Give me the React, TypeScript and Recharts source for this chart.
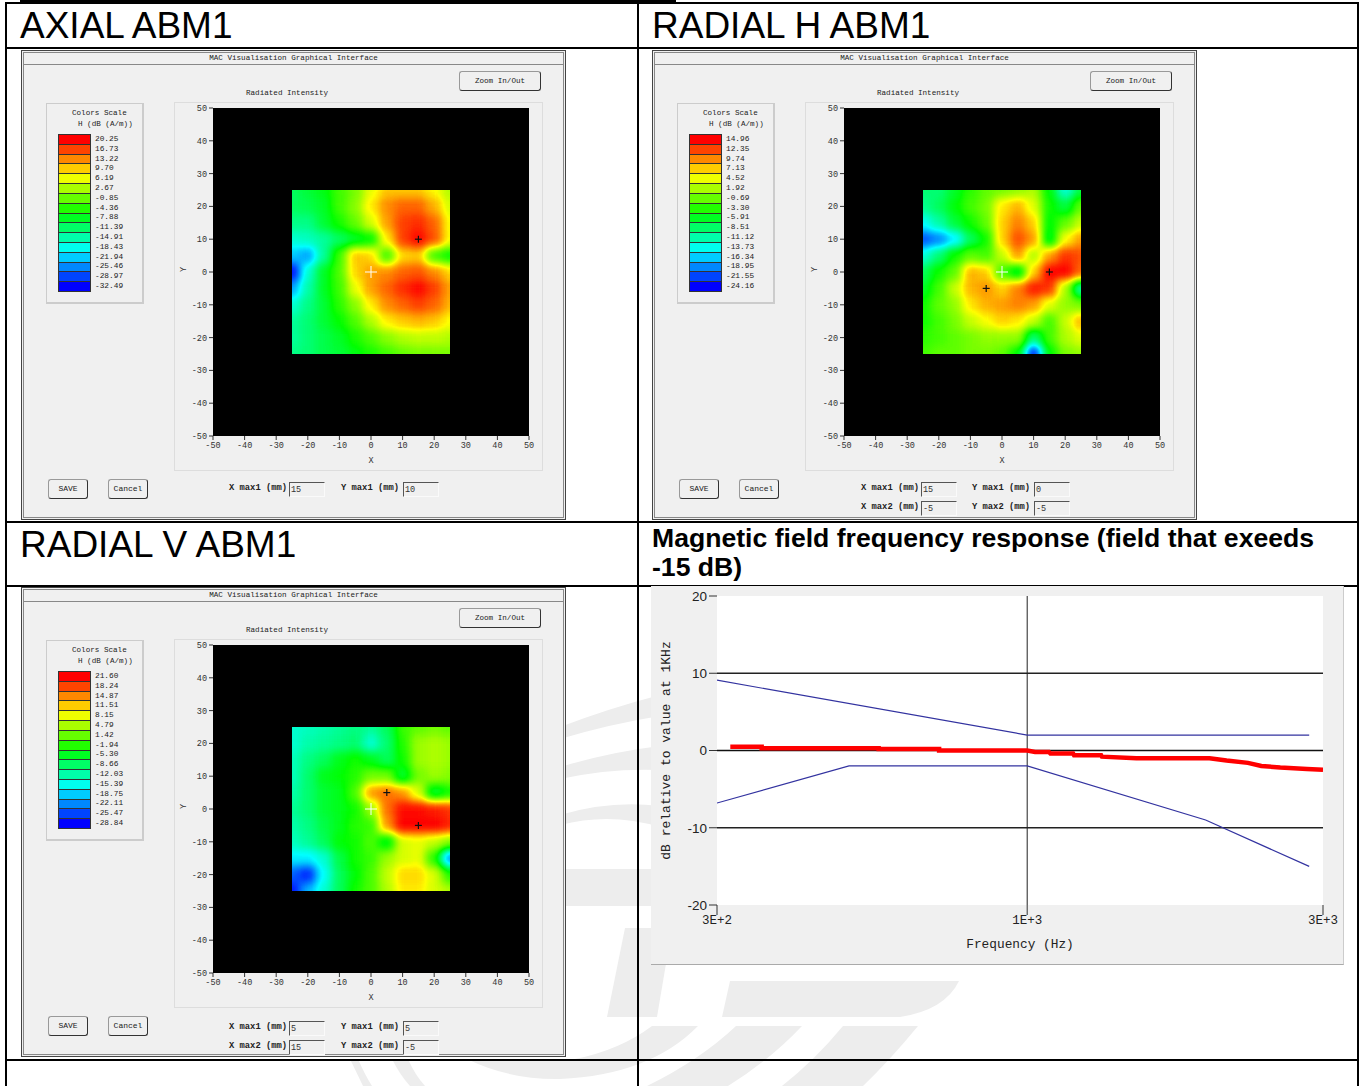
import React from "react";
import {
  ScatterChart,
  Scatter,
  LineChart,
  Line,
  XAxis,
  YAxis,
  CartesianGrid,
  ReferenceArea,
  ReferenceLine,
} from "recharts";

// grid of the scan, mm
const scanX = [-25, -20, -15, -10, -5, 0, 5, 10, 15, 20, 25];
const scanY = [25, 20, 15, 10, 5, 0, -5, -10, -15, -20, -25];
const axisTicks = [-50, -40, -30, -20, -10, 0, 10, 20, 30, 40, 50];

// H field in dB (A/m), rows from y=25 down to y=-25
const axialField = [
  [-11, -9, -7, -3, 0, 6, 10, 10, 10, 7, 3],
  [-11, -10, -8, -3, 1, 8, 13, 15, 15, 11, 5],
  [-13, -13, -9, -5, -1, 5, 12, 17, 18, 15, 7],
  [-17, -16, -14, -11, -8, -6, 8, 17, 20, 16, 7],
  [-22, -24, -14, -3, 10, 9, -3, 9, 10, -3, -6],
  [-32, -17, -8, -2, 9, 12, 13, 15, 16, 13, 9],
  [-24, -15, -8, -3, 6, 12, 15, 18, 20, 17, 12],
  [-17, -13, -9, -4, 1, 8, 13, 15, 17, 15, 11],
  [-14, -12, -9, -6, -2, 3, 8, 10, 11, 10, 7],
  [-14, -12, -10, -8, -5, -2, 1, 3, 4, 4, 3],
  [-13, -12, -10, -9, -7, -5, -3, -1, 0, 0, 0],
];
const radialHField = [
  [-9, -9, -6, -3, -1, 0, 1, 2, -5, -13, -7],
  [-10, -8, -5, -2, 0, 6, 8, 4, -4, -7, -1],
  [-14, -11, -7, -4, -1, 7, 10, 7, -5, -1, 3],
  [-21, -19, -15, -8, -4, 7, 12, 9, -6, 5, 9],
  [-13, -9, -4, -1, -2, 3, 9, 2, 9, 13, 12],
  [-8, -4, -1, 8, 7, -2, -6, 7, 15, 15, 11],
  [-6, -2, 3, 8, 9, 7, 10, 14, 13, 2, -11],
  [-4, -1, 1, 6, 8, 9, 10, 9, 4, 1, 0],
  [-4, -2, 0, 3, 5, 7, 6, 3, -2, 3, 8],
  [-3, -2, -1, 0, 1, 1, 1, -9, -2, 2, 4],
  [-2, -1, -1, 0, 0, -1, -5, -23, -5, 0, 1],
];
const radialVField = [
  [-14, -13, -12, -11, -10, -11, -8, -1, 1, 2, 1],
  [-14, -12, -11, -10, -9, -14, -9, -2, 4, 5, 4],
  [-13, -10, -8, -5, -3, -5, -8, -3, 4, 5, 4],
  [-13, -9, -5, -4, -2, 2, 2, -6, 2, 4, 3],
  [-12, -9, -6, -5, 0, 14, 16, 14, 7, -6, -3],
  [-11, -9, -6, -5, -3, 4, 16, 21, 21, 20, 19],
  [-12, -10, -7, -5, -2, -1, 14, 21.6, 21.6, 21.6, 20],
  [-13, -11, -8, -4, -3, 0, -5, 7, 8, 6, 3],
  [-17, -17, -14, -7, -3, -1, 4, 7, 8, -2, -22],
  [-24, -27, -16, -8, -4, 0, 6, 11, 11, 7, -2],
  [-28, -20, -14, -8, -3, 0, 5, 10, 10, 7, 5],
];

const axialLegend = ["20.25", "16.73", "13.22", "9.70", "6.19", "2.67", "-0.85", "-4.36", "-7.88", "-11.39", "-14.91", "-18.43", "-21.94", "-25.46", "-28.97", "-32.49"];
const radialHLegend = ["14.96", "12.35", "9.74", "7.13", "4.52", "1.92", "-0.69", "-3.30", "-5.91", "-8.51", "-11.12", "-13.73", "-16.34", "-18.95", "-21.55", "-24.16"];
const radialVLegend = ["21.60", "18.24", "14.87", "11.51", "8.15", "4.79", "1.42", "-1.94", "-5.30", "-8.66", "-12.03", "-15.39", "-18.75", "-22.11", "-25.47", "-28.84"];

const axialPeaks = [{ x: 15, y: 10 }];
const radialHPeaks = [{ x: 15, y: 0 }, { x: -5, y: -5 }];
const radialVPeaks = [{ x: 5, y: 5 }, { x: 15, y: -5 }];
const origin = [{ x: 0, y: 0 }];

// frequency response
const upperLimitF = [316, 1000, 2850];
const upperLimitDb = [9.1, 2, 2];
const lowerLimitF = [316, 516, 1000, 1940, 2850];
const lowerLimitDb = [-6.8, -2, -2, -9, -15];
const responseF = [332, 373, 373, 576, 576, 721, 721, 1000, 1030, 1084, 1090, 1186, 1190, 1316, 1320, 1500, 1968, 2097, 2270, 2386, 2560, 2827, 3000];
const responseDb = [0.5, 0.5, 0.3, 0.3, 0.2, 0.2, 0, 0, -0.2, -0.2, -0.4, -0.4, -0.6, -0.6, -0.8, -1, -1, -1.3, -1.6, -2, -2.2, -2.4, -2.5];
const dbTicks = [-20, -10, 0, 10, 20];
const freqTicks = [316, 1000, 3000];
const freqLabels = ["3E+2", "1E+3", "3E+3"];

const pairs = (xs: number[], ys: number[]) => xs.map((f, i) => ({ f, db: ys[i] }));
const MONO = "'Liberation Mono', monospace";
const PANEL_BG = "#f0f0f0";
const CELL_W = 15.8;
const CELL_H = 16.4;

function Rule({ x, y, w, h }: { x: number; y: number; w: number; h: number }) {
  return <div style={{ position: "absolute", left: x, top: y, width: w, height: h, background: "#000" }} />;
}

function Heading({ x, y, children }: { x: number; y: number; children: React.ReactNode }) {
  return (
    <div style={{ position: "absolute", left: x, top: y, fontFamily: "'Liberation Sans', sans-serif", fontSize: 37, lineHeight: "40px", whiteSpace: "nowrap", color: "#000" }}>
      {children}
    </div>
  );
}

function Small({ x, y, w, align, bold, size, children }: { x: number; y: number; w?: number; align?: "left" | "center"; bold?: boolean; size?: number; children: React.ReactNode }) {
  return (
    <div style={{ position: "absolute", left: x, top: y, width: w, textAlign: align || "left", fontFamily: MONO, fontSize: size || 7.6, lineHeight: "10px", fontWeight: bold ? 700 : 400, whiteSpace: "pre", color: "#222" }}>
      {children}
    </div>
  );
}

function Button({ x, y, label }: { x: number; y: number; label: string }) {
  return (
    <div style={{ position: "absolute", left: x, top: y, width: 38, height: 18, borderRight: "1.5px solid #333", borderBottom: "1.5px solid #333", borderLeft: "1px solid #999", borderTop: "1px solid #999", borderRadius: 3, textAlign: "center", fontFamily: MONO, fontSize: 8, lineHeight: "18px", color: "#222" }}>
      {label}
    </div>
  );
}

function Field({ x, y, inputX, label, value }: { x: number; y: number; inputX: number; label: string; value: string }) {
  return (
    <>
      <Small x={x} y={y} bold size={8.8}>{label}</Small>
      <div style={{ position: "absolute", left: inputX, top: y - 1, width: 33, height: 13, borderTop: "1px solid #555", borderLeft: "1px solid #555", borderRight: "1px solid #fafafa", borderBottom: "1px solid #fafafa", fontFamily: MONO, fontSize: 8.5, lineHeight: "14px", paddingLeft: 1, color: "#333", boxSizing: "content-box" }}>
        {value}
      </div>
    </>
  );
}

const crossShape = (arm: number, color: string, width: number) => (p: any) => (
  <g stroke={color} strokeWidth={width}>
    <line x1={p.cx - arm} x2={p.cx + arm} y1={p.cy} y2={p.cy} />
    <line x1={p.cx} x2={p.cx} y1={p.cy - arm} y2={p.cy + arm} />
  </g>
);

function HeatMap({ id, field, peaks, max, min }: { id: string; field: number[][]; peaks: { x: number; y: number }[]; max: number; min: number }) {
  const cells = field.flatMap((row, j) => row.map((db, i) => ({ x: scanX[i], y: scanY[j], db, i, j })));
  // grey level carries the value, the svg filter turns it into the rainbow after the blur
  const cellShape = (p: any) => {
    const { db, i, j } = p.payload;
    const g = Math.round((255 * (db - min)) / (max - min));
    const pad = 14;
    const left = p.cx - CELL_W / 2 - (i === 0 ? pad : 0);
    const right = p.cx + CELL_W / 2 + (i === 10 ? pad : 0);
    const top = p.cy - CELL_H / 2 - (j === 0 ? pad : 0);
    const bottom = p.cy + CELL_H / 2 + (j === 10 ? pad : 0);
    return <rect x={left} y={top} width={right - left + 0.5} height={bottom - top + 0.5} fill={`rgb(${g},${g},${g})`} />;
  };
  const tickStyle = { fontFamily: MONO, fontSize: 8.5, fill: "#333" };
  return (
    <ScatterChart id={id} width={369} height={369} margin={{ top: 6, right: 14, bottom: 0, left: 0 }}>
      <CartesianGrid horizontal={false} vertical={false} fill="#000" />
      <XAxis type="number" dataKey="x" domain={[-50, 50]} ticks={axisTicks} tick={tickStyle} tickSize={4} axisLine={false} tickLine={{ stroke: "#333" }} height={35} interval={0}
        label={{ value: "X", position: "insideBottom", offset: 8, style: { fontFamily: MONO, fontSize: 8.5, fill: "#333" } }} />
      <YAxis type="number" dataKey="y" domain={[-50, 50]} ticks={axisTicks} tick={tickStyle} tickSize={4} axisLine={false} tickLine={{ stroke: "#333" }} width={39} interval={0}
        label={{ value: "Y", angle: -90, position: "insideLeft", offset: 9, style: { fontFamily: MONO, fontSize: 8.5, fill: "#333" } }} />
      <Scatter className="heat-cells" data={cells} shape={cellShape} isAnimationActive={false} zIndex={600} />
      <ReferenceArea x1={-50} x2={-25} y1={-50} y2={50} fill="#000" fillOpacity={1} stroke="none" zIndex={650} />
      <ReferenceArea x1={25} x2={50} y1={-50} y2={50} fill="#000" fillOpacity={1} stroke="none" zIndex={650} />
      <ReferenceArea x1={-25} x2={25} y1={25} y2={50} fill="#000" fillOpacity={1} stroke="none" zIndex={650} />
      <ReferenceArea x1={-25} x2={25} y1={-50} y2={-25} fill="#000" fillOpacity={1} stroke="none" zIndex={650} />
      <Scatter data={peaks} shape={crossShape(3.5, "#111", 1.2)} isAnimationActive={false} zIndex={700} />
      <Scatter data={origin} shape={crossShape(6, "#fff", 1)} isAnimationActive={false} zIndex={700} />
    </ScatterChart>
  );
}

function MacPanel({ x, y, field, legend, peaks, fields }: {
  x: number; y: number; field: number[][]; legend: string[]; peaks: { x: number; y: number }[];
  fields: { x: number; y: number; inputX: number; label: string; value: string }[];
}) {
  return (
    <div style={{ position: "absolute", left: x, top: y, width: 545, height: 470, background: PANEL_BG, border: "1px solid #444", boxSizing: "border-box" }}>
      <div style={{ position: "absolute", left: 1, top: 1, right: 1, bottom: 1, border: "1px solid #888" }} />
      <div style={{ position: "absolute", left: 2, right: 2, top: 13, height: 1, background: "#888" }} />
      <Small x={0} y={2} w={543} align="center">MAC Visualisation Graphical Interface</Small>
      <Small x={0} y={37} w={530} align="center">Radiated Intensity</Small>
      <div style={{ position: "absolute", left: 437, top: 20, width: 80, height: 18, borderRight: "1.5px solid #333", borderBottom: "1.5px solid #333", borderLeft: "1px solid #999", borderTop: "1px solid #999", borderRadius: 3, textAlign: "center", fontFamily: MONO, fontSize: 7.6, lineHeight: "18px", color: "#222" }}>Zoom In/Out</div>

      <div style={{ position: "absolute", left: 24, top: 52, width: 98, height: 201, border: "1px solid #ccc", borderBottomWidth: 2, borderRightWidth: 2, boxSizing: "border-box" }} />
      <Small x={50} y={57}>Colors Scale</Small>
      <Small x={56} y={68}>H (dB (A/m))</Small>
      <div style={{ position: "absolute", left: 36, top: 83, width: 33, height: 158, border: "1px solid #333", boxSizing: "border-box", display: "flex", flexDirection: "column" }}>
        {legend.map((_, k) => (
          <div key={k} style={{ flex: 1, borderBottom: k < 15 ? "1px solid #333" : "none", background: `hsl(${k * 16} 100% 50%)` }} />
        ))}
      </div>
      {legend.map((t, k) => (
        <Small key={t} x={73} y={83 + k * 9.8} size={7.8}>{t}</Small>
      ))}

      <div style={{ position: "absolute", left: 152, top: 51, width: 369, height: 369, border: "1px solid #ddd", boxSizing: "border-box" }} />
      <div style={{ position: "absolute", left: 152, top: 51 }}>
        <HeatMap id={`m${x}${y}`} field={field} peaks={peaks} max={parseFloat(legend[0])} min={parseFloat(legend[15])} />
      </div>

      <Button x={26} y={428} label="SAVE" />
      <Button x={86} y={428} label="Cancel" />
      {fields.map((f) => (
        <Field key={f.label} {...f} />
      ))}
    </div>
  );
}

function RotatedTitle(props: any) {
  const { viewBox } = props;
  const cy = viewBox.y + viewBox.height / 2;
  return (
    <text x={0} y={0} transform={`translate(19 ${cy}) rotate(-90)`} textAnchor="middle" fontFamily={MONO} fontSize={13} fill="#222">
      dB relative to value at 1KHz
    </text>
  );
}

function ResponseChart() {
  const tick = { fontFamily: MONO, fontSize: 12.5, fill: "#222" };
  return (
    <LineChart width={692} height={378} margin={{ top: 10, right: 20, bottom: 0, left: 0 }}>
      <CartesianGrid horizontal={false} vertical={false} fill="#fff" />
      <XAxis type="number" dataKey="f" scale="log" domain={[316, 3000]} ticks={freqTicks} allowDataOverflow tick={tick} tickSize={10} tickMargin={0} axisLine={false} tickLine={{ stroke: "#333" }} height={59} interval={0}
        tickFormatter={(v: number) => freqLabels[freqTicks.indexOf(v)]}
        label={{ value: "Frequency (Hz)", position: "insideBottom", offset: 16, style: { ...tick, fontSize: 12.8 } }} />
      <YAxis type="number" domain={[-20, 20]} ticks={dbTicks} tick={{ ...tick, fontFamily: "'Liberation Sans', sans-serif", fontSize: 13.5 }} tickSize={8} axisLine={false} tickLine={{ stroke: "#333" }} width={66} interval={0}
        label={<RotatedTitle />} />
      <ReferenceLine y={10} stroke="#222" strokeWidth={1.5} />
      <ReferenceLine y={0} stroke="#111" strokeWidth={1.5} />
      <ReferenceLine y={-10} stroke="#222" strokeWidth={1.5} />
      <ReferenceLine x={1000} stroke="#222" strokeWidth={1} />
      <Line data={pairs(upperLimitF, upperLimitDb)} dataKey="db" type="linear" stroke="#3333a0" strokeWidth={1.2} dot={false} isAnimationActive={false} />
      <Line data={pairs(lowerLimitF, lowerLimitDb)} dataKey="db" type="linear" stroke="#3333a0" strokeWidth={1.2} dot={false} isAnimationActive={false} />
      <Line data={pairs(responseF, responseDb)} dataKey="db" type="linear" stroke="#ff0000" strokeWidth={4.5} dot={false} isAnimationActive={false} />
    </LineChart>
  );
}

// the pale logo printed behind the page
function Watermark() {
  return (
    <svg width={1360} height={1086} style={{ position: "absolute", left: 0, top: 0 }}>
      <g fill="#ededed">
        <path d="M560 727 Q610 708 660 695 L660 716 Q610 724 560 739 Z" />
        <path d="M560 767 Q610 752 660 746 L660 770 Q610 768 560 779 Z" />
        <path d="M560 815 Q610 800 660 806 L660 827 Q610 812 560 825 Z" />
        <rect x={560} y={869} width={100} height={37} />
        <path d="M625 928 L672 928 L657 1017 L607 1017 Z" />
        <path d="M730 981 L959 981 Q945 1010 900 1017 L722 1017 Z" />
        <path d="M652 1026 L698 1026 Q650 1075 560 1079 Q510 1080 467 1059 L575 1059 Q620 1050 652 1026 Z" />
        <path d="M736 1026 L802 1026 Q770 1060 728 1086 L647 1086 Q700 1060 736 1026 Z" />
        <path d="M843 1026 L918 1026 Q890 1060 863 1086 L782 1086 Q815 1060 843 1026 Z" />
        <path d="M350 1059 L358 1059 Q365 1075 372 1086 L363 1086 Z" />
        <path d="M392 1059 L408 1059 Q415 1075 425 1086 L410 1086 Q400 1075 392 1059 Z" />
      </g>
    </svg>
  );
}

export default function App() {
  return (
    <div style={{ position: "absolute", left: 0, top: 0, width: 1360, height: 1086, background: "#fff", overflow: "hidden" }}>
      <svg width={0} height={0} style={{ position: "absolute" }}>
        <defs>
          <filter id="heat" x="-20%" y="-20%" width="140%" height="140%" colorInterpolationFilters="sRGB">
            <feGaussianBlur stdDeviation={4.8} />
            <feComponentTransfer>
              <feFuncR type="table" tableValues="0 0 0 1 1" />
              <feFuncG type="table" tableValues="0 1 1 1 0" />
              <feFuncB type="table" tableValues="1 1 0 0 0" />
            </feComponentTransfer>
          </filter>
        </defs>
      </svg>
      <style>{`.heat-cells { filter: url(#heat); }`}</style>
      <Watermark />

      {/* table rules */}
      <Rule x={20} y={0} w={656} h={3} />
      <Rule x={5} y={2} w={1354} h={1.5} />
      <Rule x={5} y={2} w={2} h={1084} />
      <Rule x={636.5} y={2} w={2} h={1084} />
      <Rule x={1357} y={2} w={2} h={1084} />
      <Rule x={5} y={47} w={1354} h={2} />
      <Rule x={5} y={521} w={1354} h={2} />
      <Rule x={5} y={584.5} w={1354} h={2} />
      <Rule x={5} y={1059} w={1354} h={2} />

      <Heading x={20} y={6}>AXIAL ABM1</Heading>
      <Heading x={652} y={6}>RADIAL H ABM1</Heading>
      <Heading x={20} y={525}>RADIAL V ABM1</Heading>
      <div style={{ position: "absolute", left: 652, top: 524, width: 690, fontFamily: "'Liberation Sans', sans-serif", fontWeight: 700, fontSize: 26.6, lineHeight: "29px", color: "#000" }}>
        Magnetic field frequency response (field that exeeds -15 dB)
      </div>

      <MacPanel x={21} y={50} field={axialField} legend={axialLegend} peaks={axialPeaks}
        fields={[
          { x: 207, y: 432, inputX: 267, label: "X max1 (mm)", value: "15" },
          { x: 319, y: 432, inputX: 381, label: "Y max1 (mm)", value: "10" },
        ]} />
      <MacPanel x={652} y={50} field={radialHField} legend={radialHLegend} peaks={radialHPeaks}
        fields={[
          { x: 208, y: 432, inputX: 268, label: "X max1 (mm)", value: "15" },
          { x: 319, y: 432, inputX: 381, label: "Y max1 (mm)", value: "0" },
          { x: 208, y: 451, inputX: 268, label: "X max2 (mm)", value: "-5" },
          { x: 319, y: 451, inputX: 381, label: "Y max2 (mm)", value: "-5" },
        ]} />
      <MacPanel x={21} y={587} field={radialVField} legend={radialVLegend} peaks={radialVPeaks}
        fields={[
          { x: 207, y: 434, inputX: 267, label: "X max1 (mm)", value: "5" },
          { x: 319, y: 434, inputX: 381, label: "Y max1 (mm)", value: "5" },
          { x: 207, y: 453, inputX: 267, label: "X max2 (mm)", value: "15" },
          { x: 319, y: 453, inputX: 381, label: "Y max2 (mm)", value: "-5" },
        ]} />

      <div style={{ position: "absolute", left: 651, top: 586, width: 692, height: 378, background: PANEL_BG, borderBottom: "1px solid #aaa", borderRight: "1px solid #ccc" }}>
        <ResponseChart />
      </div>
    </div>
  );
}
